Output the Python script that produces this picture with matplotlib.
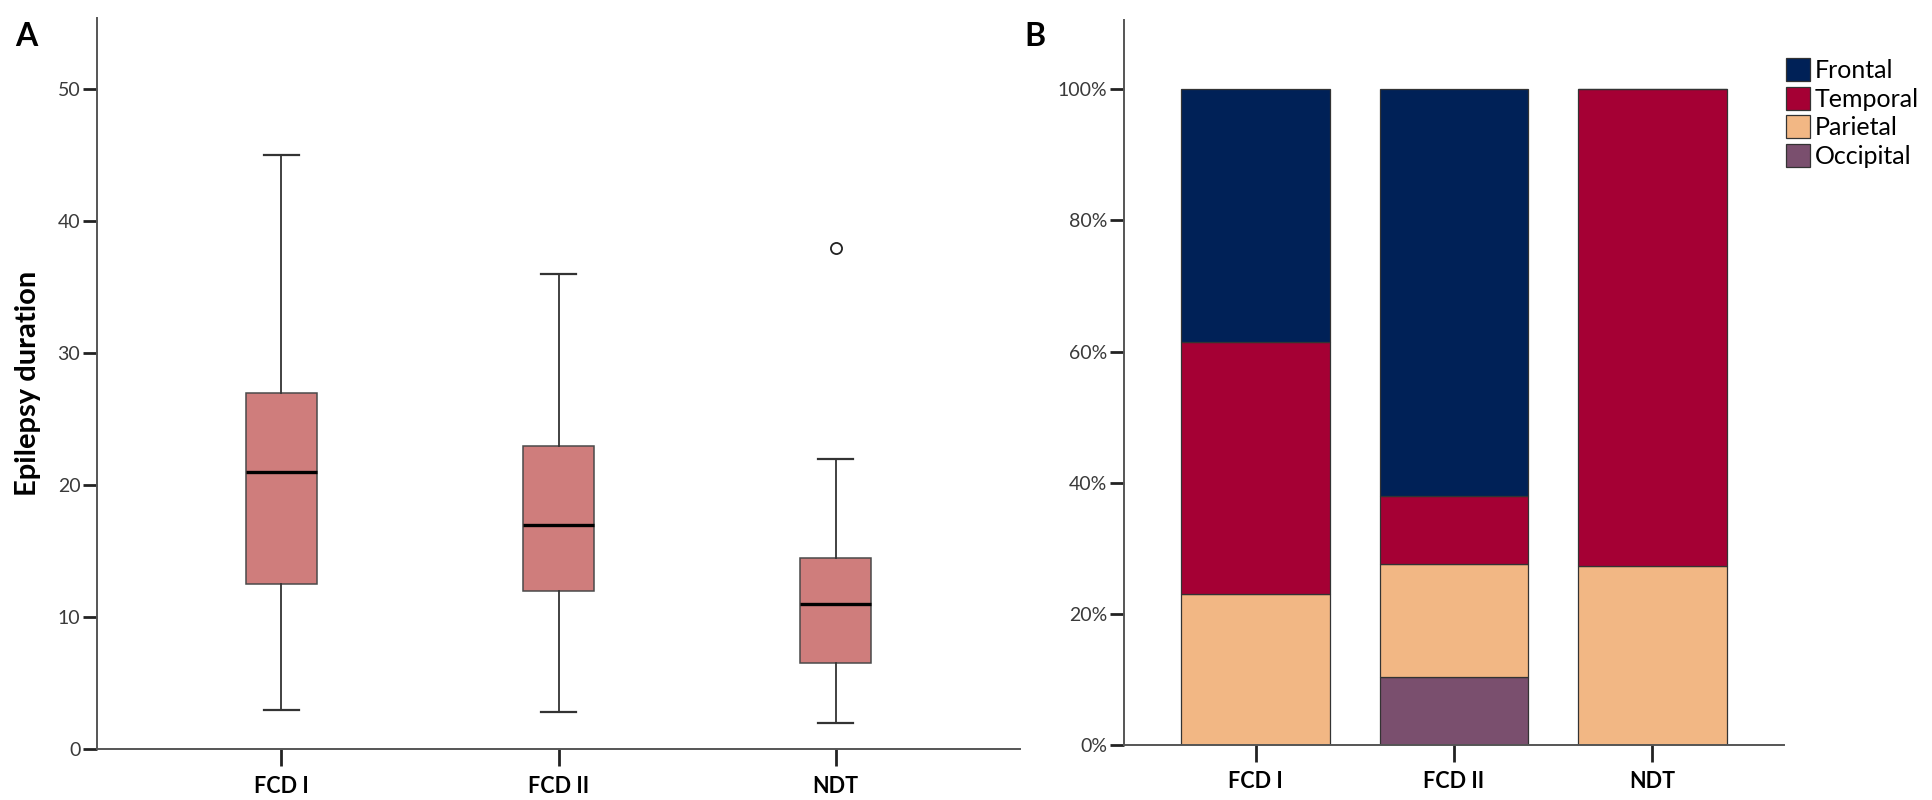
import matplotlib
matplotlib.use("Agg")
import matplotlib.pyplot as plt
from matplotlib.ticker import FuncFormatter

plt.rcParams['font.family'] = ['Lato', 'DejaVu Sans']

# panel A: epilepsy duration box plot
groups = ['FCD I', 'FCD II', 'NDT']
whisker_low = [3.0, 2.8, 2.0]
q1 = [12.5, 12.0, 6.5]
median = [21.0, 17.0, 11.0]
q3 = [27.0, 23.0, 14.5]
whisker_high = [45.0, 36.0, 22.0]
outliers = [[], [], [38.0]]

# panel B: lobe distribution, percent per group
regions = ['Frontal', 'Temporal', 'Parietal', 'Occipital']
frontal = [38.5, 62.1, 0.0]
temporal = [38.4, 10.3, 72.7]
parietal = [23.1, 17.2, 27.3]
occipital = [0.0, 10.4, 0.0]

W, H = 1932, 800
fig = plt.figure(figsize=(W / 100, H / 100), dpi=100)
axA = fig.add_axes([97 / W, 1 - 749.3 / H, (1020 - 97) / W, (749.3 - 18) / H])
axB = fig.add_axes([1124 / W, 1 - 745 / H, (1784 - 1124) / W, (745 - 20.4) / H])

tick_col = '#3a3a3a'
axis_col = '#555555'


def style_axes(ax):
    for s in ['top', 'right']:
        ax.spines[s].set_visible(False)
    for s in ['left', 'bottom']:
        ax.spines[s].set_color(axis_col)
        ax.spines[s].set_linewidth(1.4)
    ax.tick_params(axis='y', length=10, width=2, color='#222222', pad=2,
                   labelsize=14, labelcolor=tick_col)
    ax.tick_params(axis='x', length=12, width=2, color='#222222', pad=7)
    ax.set_xticks([1, 2, 3])
    ax.set_xticklabels(groups, fontsize=15.5, fontweight='bold', color='black')
    ax.set_xlim(0.335, 3.665)


# box plot
stats = []
for i, g in enumerate(groups):
    stats.append({'label': g, 'whislo': whisker_low[i], 'q1': q1[i], 'med': median[i],
                  'q3': q3[i], 'whishi': whisker_high[i], 'fliers': outliers[i]})

axA.bxp(stats, positions=[1, 2, 3], widths=0.257, capwidths=0.127, patch_artist=True,
        boxprops=dict(facecolor='#cf7d7c', edgecolor='#4a4a4a', linewidth=1.1),
        medianprops=dict(color='black', linewidth=2.4),
        whiskerprops=dict(color='#333333', linewidth=1.3),
        capprops=dict(color='#333333', linewidth=1.6),
        flierprops=dict(marker='o', markerfacecolor='white', markeredgecolor='#222222',
                        markersize=8, markeredgewidth=1.3))
style_axes(axA)
axA.set_ylim(0, 55.4)
axA.set_yticks([0, 10, 20, 30, 40, 50])
axA.set_ylabel('Epilepsy duration', fontsize=21, fontweight='bold', labelpad=12)

# stacked bars, bottom to top
x = [1, 2, 3]
series = [occipital, parietal, temporal, frontal]
names = ['Occipital', 'Parietal', 'Temporal', 'Frontal']
cols = ['#7a4f6e', '#f2b784', '#a50034', '#002157']
bottom = [0.0, 0.0, 0.0]
handles = {}
for vals, name, c in zip(series, names, cols):
    b = axB.bar(x, vals, width=0.75, bottom=bottom, color=c, edgecolor='#333333',
                linewidth=0.9, label=name)
    handles[name] = b
    bottom = [bt + v for bt, v in zip(bottom, vals)]
style_axes(axB)
axB.set_ylim(0, 110.5)
axB.set_yticks([0, 20, 40, 60, 80, 100])
axB.yaxis.set_major_formatter(FuncFormatter(lambda v, p: f'{v:.0f}%'))

fig.legend([handles[r] for r in regions], regions, loc='upper left',
           bbox_to_anchor=(1786 / W, 1 - 58 / H), frameon=False, fontsize=18,
           handlelength=0.95, handleheight=1.05, handletextpad=0.2, labelspacing=0.18,
           borderaxespad=0, borderpad=0)

fig.text(15 / W, 1 - 46 / H, 'A', fontsize=23, fontweight='bold')
fig.text(1024 / W, 1 - 46 / H, 'B', fontsize=23, fontweight='bold')

fig.savefig('out.png', dpi=100)
